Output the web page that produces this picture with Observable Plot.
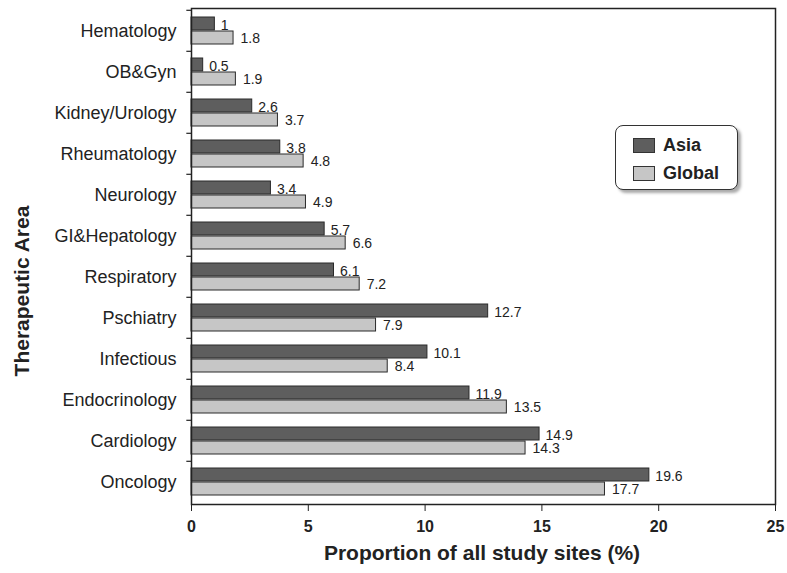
<!DOCTYPE html>
<html><head><meta charset="utf-8">
<script src="https://cdn.jsdelivr.net/npm/d3@7"></script>
<script src="https://cdn.jsdelivr.net/npm/@observablehq/plot@0.6"></script>
<style>
body{margin:0;background:#fff;font-family:"Liberation Sans",Arial,sans-serif;}
#wrap{position:relative;width:787px;height:573px;}
#legend{position:absolute;left:615px;top:125px;width:123px;height:65px;border:1px solid #333;border-radius:8px;background:#fff;box-shadow:3px 3px 3px #aaa;box-sizing:border-box;}
.row{position:absolute;left:17px;display:flex;align-items:center;font-weight:bold;font-size:18px;color:#222;}
.sw{width:22px;height:15px;border:1px solid #333;margin-right:8px;box-sizing:border-box;}
</style></head>
<body><div id="wrap"><div id="legend">
<div class="row" style="top:9px"><div class="sw" style="background:#5e5e5e"></div>Asia</div>
<div class="row" style="top:37px"><div class="sw" style="background:#c6c6c6"></div>Global</div>
</div></div>
<script>
const categories = ["Hematology","OB&Gyn","Kidney/Urology","Rheumatology","Neurology","GI&Hepatology","Respiratory","Pschiatry","Infectious","Endocrinology","Cardiology","Oncology"];
const asia = [1,0.5,2.6,3.8,3.4,5.7,6.1,12.7,10.1,11.9,14.9,19.6];
const globalV = [1.8,1.9,3.7,4.8,4.9,6.6,7.2,7.9,8.4,13.5,14.3,17.7];
const xTicks = [0,5,10,15,20,25];
const xTitle = "Proportion of all study sites (%)";
const yTitle = "Therapeutic Area";

const rowsA = categories.map((c,i)=>({cat:c, v:asia[i]}));
const rowsG = categories.map((c,i)=>({cat:c, v:globalV[i]}));

const chart = Plot.plot({
  width: 787, height: 573,
  marginLeft: 191, marginRight: 12, marginTop: 8, marginBottom: 69,
  style: {fontFamily: '"Liberation Sans", Arial, sans-serif', color: "#222", background: "#fff"},
  x: {domain: [0,25], ticks: xTicks},
  y: {domain: categories, padding: 0},
  marks: [
    Plot.barX(rowsA, {y:"cat", x:"v", fill:"#5e5e5e", stroke:"#2a2a2a", strokeWidth:1, insetTop:7, insetBottom:21}),
    Plot.barX(rowsG, {y:"cat", x:"v", fill:"#c6c6c6", stroke:"#2a2a2a", strokeWidth:1, insetTop:21, insetBottom:7}),
    Plot.text(rowsA, {y:"cat", x:"v", text:d=>String(d.v), textAnchor:"start", dx:6, dy:-5, fontSize:14, fill:"#222"}),
    Plot.text(rowsG, {y:"cat", x:"v", text:d=>String(d.v), textAnchor:"start", dx:7, dy:8, fontSize:14, fill:"#222"}),
    Plot.ruleY(categories, {y:d=>d, x1:-0.2, x2:0, dy:-20.7, stroke:"#222", strokeWidth:1.2}),
    Plot.frame({stroke:"#222", strokeWidth:1.5}),
    Plot.axisX({ticks:xTicks, tickSize:7, fontSize:16, fontWeight:"bold", tickPadding:9, label:null}),
    Plot.axisY({tickSize:0, tickPadding:15, fontSize:18, label:null})
  ]
});
const svg = d3.select(chart);
svg.append("text").text(xTitle)
  .attr("x", 482).attr("y", 560).attr("text-anchor","middle")
  .attr("font-size", 21).attr("font-weight","bold").attr("fill","#222");
svg.append("text").text(yTitle)
  .attr("transform","translate(29,291) rotate(-90)").attr("text-anchor","middle")
  .attr("font-size", 21).attr("font-weight","bold").attr("fill","#222");
document.getElementById("wrap").prepend(chart);
</script></body></html>
